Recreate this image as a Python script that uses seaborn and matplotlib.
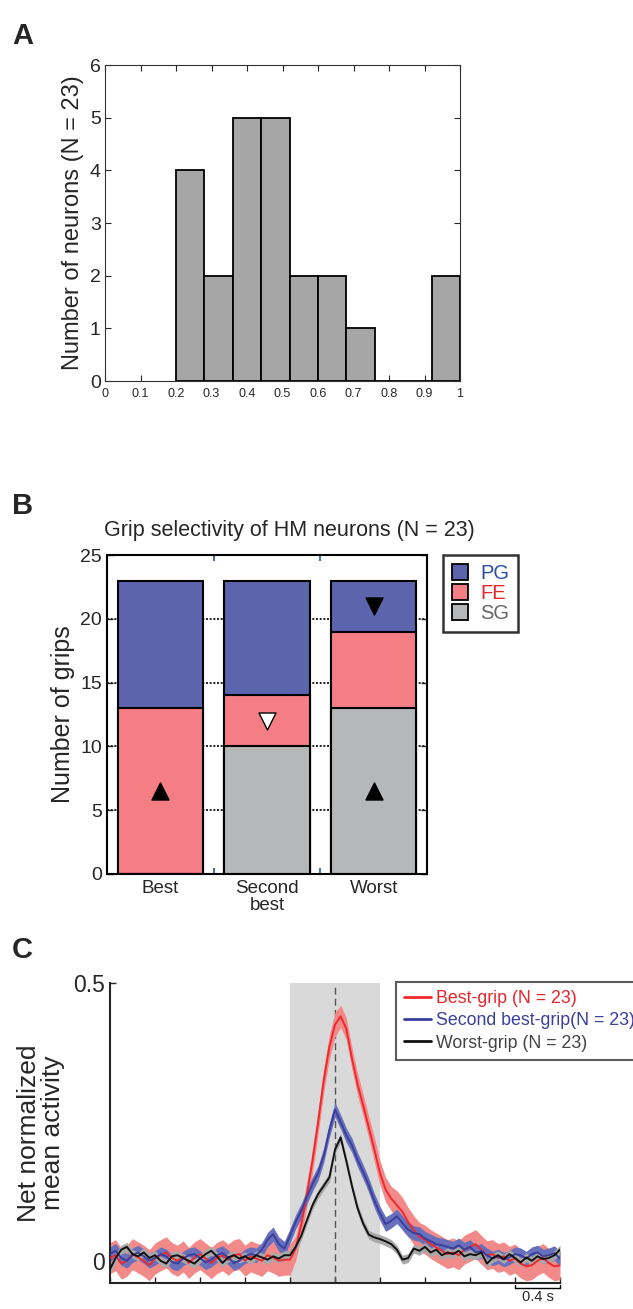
import numpy as np
import pandas as pd
import seaborn as sns
import matplotlib.pyplot as plt
from matplotlib import font_manager
from matplotlib.patches import Patch
from matplotlib.lines import Line2D

# ---- panel A: histogram of selectivity index
bin_edges = [0.2, 0.28, 0.36, 0.44, 0.52, 0.60, 0.68, 0.76, 0.84, 0.92, 1.0]
bin_counts = [4, 2, 5, 5, 2, 2, 1, 0, 0, 2]
a_xticks = [0, 0.1, 0.2, 0.3, 0.4, 0.5, 0.6, 0.7, 0.8, 0.9, 1]
a_xticklabels = ["0", "0.1", "0.2", "0.3", "0.4", "0.5", "0.6", "0.7", "0.8", "0.9", "1"]

# ---- panel B: stacked grip counts
ranks = ["Best", "Second\nbest", "Worst"]
pg_counts = [10, 9, 4]
fe_counts = [13, 4, 6]
sg_counts = [0, 10, 13]
# significance markers (rank index, height, marker, fill)
mark_rank = [0, 1, 2, 2]
mark_y = [6.5, 12.0, 21.0, 6.5]
mark_shape = ["^", "v", "v", "^"]
mark_fill = ["black", "white", "black", "black"]

# ---- panel C: population activity (mean and sem), 0.05 s steps
t = np.round(np.arange(-2.0, 2.001, 0.05), 2)
best_mean = [0.005, 0.01, -0.005, 0.0, 0.012, 0.006, 0.0, -0.008, 0.004, 0.01,
             0.015, 0.005, 0.0, 0.008, -0.004, 0.006, 0.012, 0.004, -0.004, 0.005,
             0.01, 0.002, 0.01, 0.012, 0.0, 0.008, 0.004, 0.0, 0.01, 0.006,
             0.0, 0.002, 0.002, 0.022, 0.065, 0.12, 0.18, 0.25, 0.325, 0.385,
             0.425, 0.44, 0.418, 0.365, 0.318, 0.28, 0.24, 0.2, 0.158, 0.128,
             0.112, 0.1, 0.088, 0.07, 0.055, 0.043, 0.038, 0.03, 0.024, 0.018,
             0.012, 0.015, 0.01, 0.02, 0.025, 0.03, 0.02, 0.01, 0.012, 0.005,
             0.008, 0.0, 0.004, -0.005, -0.01, -0.008, 0.0, 0.005, -0.004, -0.01,
             -0.008]
best_sem = [0.028] * 33 + [0.022] * 8 + [0.02] * 6 + [0.022] * 4 + [0.026] * 30
second_mean = [0.012, 0.018, 0.005, 0.0, 0.01, 0.015, 0.008, 0.0, 0.005, 0.012,
               0.008, -0.002, -0.005, 0.004, 0.01, 0.012, 0.005, -0.003, 0.002, 0.01,
               0.014, 0.006, -0.004, 0.0, 0.008, 0.012, 0.01, 0.02, 0.038, 0.048,
               0.03, 0.022, 0.045, 0.07, 0.09, 0.115, 0.138, 0.158, 0.19, 0.235,
               0.272, 0.25, 0.226, 0.208, 0.182, 0.16, 0.136, 0.108, 0.085, 0.066,
               0.072, 0.08, 0.068, 0.056, 0.05, 0.048, 0.04, 0.035, 0.03, 0.028,
               0.025, 0.022, 0.028, 0.02, 0.025, 0.015, 0.018, 0.01, 0.004, 0.008,
               0.002, 0.006, 0.012, 0.01, 0.004, 0.012, 0.015, 0.008, 0.01, 0.014,
               0.004]
second_sem = [0.013] * 81
worst_mean = [-0.015, 0.005, 0.02, 0.025, 0.012, 0.008, 0.015, 0.005, 0.01, 0.0,
              -0.005, 0.008, 0.01, 0.005, 0.0, -0.005, 0.004, 0.012, 0.018, 0.008,
              -0.004, 0.006, 0.01, 0.004, 0.008, 0.002, 0.01, 0.006, 0.002, 0.008,
              0.004, 0.01, 0.01, 0.025, 0.045, 0.073, 0.1, 0.12, 0.135, 0.15,
              0.2, 0.222, 0.18, 0.135, 0.095, 0.067, 0.047, 0.042, 0.039, 0.035,
              0.03, 0.02, 0.002, 0.005, 0.022, 0.018, 0.025, 0.015, 0.02, 0.01,
              0.015, 0.012, 0.018, 0.008, 0.012, 0.01, 0.015, -0.005, 0.005, 0.01,
              0.003, 0.012, 0.005, -0.003, 0.006, 0.0, 0.008, 0.003, 0.005, 0.01,
              0.02]
worst_sem = [0.008] * 81

curve_labels = ["Best-grip (N = 23)", "Second best-grip(N = 23)", "Worst-grip (N = 23)"]

sns.set_style("ticks")
plt.rcParams['font.family'] = ['Liberation Sans', 'DejaVu Sans']

# legend of C uses a narrow face when one is there
try:
    font_manager.findfont("Liberation Sans Narrow", fallback_to_default=False)
    legC_font = {"family": "Liberation Sans Narrow", "size": 15}
except Exception:
    legC_font = {"family": "Liberation Sans", "size": 12.8}

fig = plt.figure(figsize=(6.33, 13.09), dpi=100)

# ================= A
axA = fig.add_axes([105 / 633, 1 - 381 / 1309, 355 / 633, 316 / 1309])
centers = [(bin_edges[i] + bin_edges[i + 1]) / 2 for i in range(len(bin_counts))]
sns.histplot(x=centers, weights=bin_counts, bins=bin_edges, color="#a6a6a6",
             edgecolor="black", linewidth=1.3, alpha=1, ax=axA)
axA.set_xlim(0, 1)
axA.set_ylim(0, 6)
axA.set_xticks(a_xticks)
axA.set_xticklabels(a_xticklabels, fontsize=9)
axA.set_yticks(range(0, 7))
axA.tick_params(axis="y", labelsize=14, pad=3)
axA.tick_params(axis="x", pad=5)
axA.tick_params(direction="in", top=True, right=True, length=4, width=0.8)
axA.set_ylabel("Number of neurons (N = 23)", fontsize=17, labelpad=4)
for s in axA.spines.values():
    s.set_linewidth(0.8)
    s.set_color("#333333")

# ================= B
axB = fig.add_axes([107 / 633, 1 - 874 / 1309, 320 / 633, 319 / 1309])
dfB = pd.DataFrame({"rank": ranks, "PG": pg_counts, "FE": fe_counts, "SG": sg_counts})
dfB["total"] = dfB["PG"] + dfB["FE"] + dfB["SG"]
dfB["lower"] = dfB["FE"] + dfB["SG"]
for col, colr in [("total", "#5b64ad"), ("lower", "#f47e83"), ("SG", "#b5b7b9")]:
    sns.barplot(data=dfB, x="rank", y=col, color=colr, edgecolor="black",
                linewidth=1.5, width=0.8, saturation=1, ax=axB, zorder=2)
for yy in [5, 10, 15, 20]:
    axB.axhline(yy, color="black", linestyle=(0, (1.2, 1)), linewidth=1.2, zorder=0)
for xi, yi, mk, fc in zip(mark_rank, mark_y, mark_shape, mark_fill):
    axB.scatter([xi], [yi], marker=mk, s=150, facecolor=fc, edgecolor="black",
                linewidth=1.0, zorder=5)
axB.set_xlim(-0.5, 2.5)
axB.set_ylim(0, 25)
axB.set_yticks(range(0, 26, 5))
axB.tick_params(axis="y", labelsize=14, direction="in", right=True, length=4, width=1)
axB.set_xticks([0, 1, 2])
axB.set_xticklabels(ranks, fontsize=13.5, linespacing=1.0)
axB.tick_params(axis="x", length=0, pad=4)
axB.set_xticks([0.5, 1.5], minor=True)
axB.tick_params(axis="x", which="minor", direction="in", top=True, length=4,
                width=1.2, color="#2b4fa3")
axB.set_xlabel("")
axB.set_ylabel("Number of grips", fontsize=18, labelpad=4)
axB.set_title("Grip selectivity of HM neurons (N = 23)", fontsize=15.5, pad=14, loc="left",
              x=-0.01)
for s in axB.spines.values():
    s.set_linewidth(1.5)
    s.set_color("black")
handles = [Patch(facecolor=c, edgecolor="black", linewidth=1.3)
           for c in ["#5b64ad", "#f47e83", "#b5b7b9"]]
legB = fig.legend(handles, ["PG", "FE", "SG"], loc="upper left",
                  bbox_to_anchor=(443 / 633, 1 - 555 / 1309), fontsize=14.5,
                  frameon=True, fancybox=False, edgecolor="black", borderaxespad=0,
                  handlelength=0.8, handleheight=0.8, handletextpad=0.6,
                  labelspacing=0.05, borderpad=0.45)
legB.get_frame().set_linewidth(1.8)
for txt, c in zip(legB.get_texts(), ["#2b4fa3", "#e8242b", "#666666"]):
    txt.set_color(c)

# ================= C
axC = fig.add_axes([110 / 633, 1 - 1283 / 1309, 450 / 633, 300 / 1309])
axC.axvspan(-0.4, 0.4, color="#d9d9d9", zorder=0, linewidth=0)
axC.axvline(0, color="#555555", linestyle=(0, (5, 3)), linewidth=1.0, zorder=1)
series = [(best_mean, best_sem, "#f0282d", "#f38a8a"),
          (second_mean, second_sem, "#3a3f9e", "#6970bb"),
          (worst_mean, worst_sem, "#111111", "#a8a8a8")]
for (m, e, lc, bc), lab in zip(series, curve_labels):
    m = np.array(m)
    e = np.array(e)
    axC.fill_between(t, m - e, m + e, color=bc, linewidth=0, zorder=2)
    sns.lineplot(x=t, y=m, color=lc, linewidth=1.4, ax=axC, zorder=3)
axC.set_xlim(-2, 2)
axC.set_ylim(-0.04, 0.5)
axC.set_yticks([0, 0.5])
axC.set_yticklabels(["0", "0.5"], fontsize=16.5)
axC.set_xticks(np.round(np.arange(-2, 2.01, 0.4), 1))
axC.set_xticklabels([])
axC.tick_params(direction="in", length=4, width=1)
sns.despine(ax=axC)
for s in ["left", "bottom"]:
    axC.spines[s].set_linewidth(1.5)
axC.set_ylabel("Net normalized\nmean activity", fontsize=19, labelpad=6, linespacing=1.0)
# 0.4 s scale bar
axC.plot([1.6, 1.6, 2.0, 2.0], [-0.043, -0.049, -0.049, -0.043], color="black",
         linewidth=1.0, clip_on=False)
axC.text(1.8, -0.052, "0.4 s", ha="center", va="top", fontsize=10.5)
lines = [Line2D([0], [0], color=c, linewidth=2) for c in ["#f0282d", "#3a3f9e", "#111111"]]
legC = fig.legend(lines, curve_labels, loc="upper left",
                  bbox_to_anchor=(396 / 633, 1 - 982 / 1309), prop=legC_font,
                  frameon=True, fancybox=False, edgecolor="#333333", borderaxespad=0,
                  handlelength=1.5, handletextpad=0.3, labelspacing=0.3, borderpad=0.45)
legC.get_frame().set_linewidth(1.5)
for txt, c in zip(legC.get_texts(), ["#e8242b", "#3a3f9e", "#444444"]):
    txt.set_color(c)

# panel letters
for letter, yy in [("A", 22), ("B", 492), ("C", 936)]:
    fig.text(12 / 633, 1 - yy / 1309, letter, fontsize=21, fontweight="bold",
             va="top", ha="left")

fig.savefig("out.png", dpi=100)
